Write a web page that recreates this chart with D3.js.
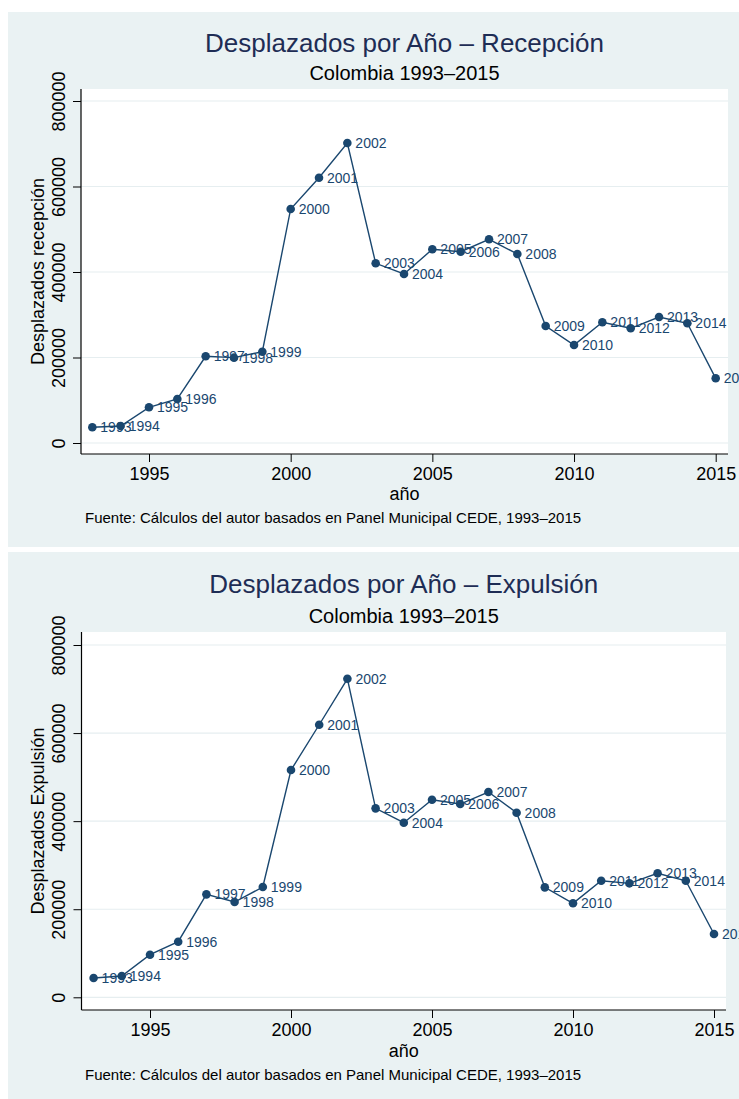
<!DOCTYPE html>
<html>
<head>
<meta charset="utf-8">
<script src="https://cdn.jsdelivr.net/npm/d3@7"></script>
<style>
  body { margin: 0; background: #ffffff; }
  svg text { font-family: "Liberation Sans", Arial, Helvetica, sans-serif; }
</style>
</head>
<body>
<svg id="chart" width="739" height="1099"></svg>
<script>
// Displaced persons per year, Colombia
const years = [1993, 1994, 1995, 1996, 1997, 1998, 1999, 2000, 2001, 2002, 2003, 2004,
               2005, 2006, 2007, 2008, 2009, 2010, 2011, 2012, 2013, 2014, 2015];
const recepcion = [36700, 39800, 83500, 102900, 202800, 199600, 213600, 547400, 620600, 701800,
                   420300, 395300, 453100, 447500, 476500, 442100, 273700, 229200, 282300, 268300,
                   294700, 280000, 151300];
const expulsion = [43800, 48400, 96700, 126200, 233800, 216300, 250400, 516000, 618900, 723300,
                   429100, 396400, 448600, 438800, 466100, 419100, 249700, 213400, 264700, 258800,
                   281500, 264700, 143700];
const xTickValues = [1995, 2000, 2005, 2010, 2015];
const yTickValues = [0, 200000, 400000, 600000, 800000];
const titles = ["Desplazados por Año – Recepción", "Desplazados por Año – Expulsión"];
const subtitle = "Colombia 1993–2015";
const yTitles = ["Desplazados recepción", "Desplazados Expulsión"];
const xTitle = "año";
const note = "Fuente: Cálculos del autor basados en Panel Municipal CEDE, 1993–2015";

const NAVY = "#1a476f";
const BG = "#eaf2f3";
const GRID = "#e6eef0";
const TITLE_COLOR = "#1e2d55";

const svg = d3.select("#chart");

function drawPanel(values, idx, L) {
  const g = svg.append("g");

  // panel background and plot region
  g.append("rect").attr("x", L.px).attr("y", L.py).attr("width", L.pw).attr("height", L.ph)
    .attr("fill", BG);
  g.append("rect").attr("x", L.left).attr("y", L.top)
    .attr("width", L.right - L.left).attr("height", L.bottom - L.top).attr("fill", "#ffffff");

  const x = d3.scaleLinear().domain([1995, 2015]).range([L.x1995, L.x2015]);
  const y = d3.scaleLinear().domain([0, 800000]).range([L.y0, L.y800]);

  // horizontal grid lines
  g.append("g").selectAll("line").data(yTickValues).join("line")
    .attr("x1", L.left).attr("x2", L.right)
    .attr("y1", d => y(d)).attr("y2", d => y(d))
    .attr("stroke", GRID).attr("stroke-width", 1.2);

  // y axis
  const ya = g.append("g").attr("transform", `translate(${L.left},0)`)
    .call(d3.axisLeft(y).tickValues(yTickValues).tickFormat(d3.format("d")).tickSize(8));
  ya.select(".domain").remove();
  ya.attr("font-size", 18).attr("font-family", null);
  ya.selectAll(".tick line").attr("stroke", "#000").attr("stroke-width", 1);
  ya.selectAll(".tick text")
    .attr("transform", "rotate(-90)")
    .attr("x", 0).attr("y", -16.5).attr("dy", 0)
    .attr("text-anchor", "middle").attr("fill", "#000");
  g.append("line").attr("x1", L.left).attr("x2", L.left).attr("y1", L.top).attr("y2", L.bottom)
    .attr("stroke", "#000").attr("stroke-width", 1.2);

  // x axis
  const xa = g.append("g").attr("transform", `translate(0,${L.bottom})`)
    .call(d3.axisBottom(x).tickValues(xTickValues).tickFormat(d3.format("d")).tickSize(8));
  xa.select(".domain").remove();
  xa.attr("font-size", 18).attr("font-family", null);
  xa.selectAll(".tick line").attr("stroke", "#000").attr("stroke-width", 1);
  xa.selectAll(".tick text").attr("y", 25.5).attr("dy", 0).attr("fill", "#000");
  g.append("line").attr("x1", L.left).attr("x2", L.right).attr("y1", L.bottom).attr("y2", L.bottom)
    .attr("stroke", "#000").attr("stroke-width", 1.2);

  const cx = (L.left + L.right) / 2;

  // titles
  g.append("text").attr("x", cx).attr("y", L.titleY).attr("text-anchor", "middle")
    .attr("font-size", 26).attr("fill", TITLE_COLOR).text(titles[idx]);
  g.append("text").attr("x", cx).attr("y", L.subY).attr("text-anchor", "middle")
    .attr("font-size", 20).attr("fill", "#000").text(subtitle);

  // axis titles
  g.append("text").attr("x", cx).attr("y", L.xTitleY).attr("text-anchor", "middle")
    .attr("font-size", 18).attr("fill", "#000").text(xTitle);
  g.append("text")
    .attr("transform", `translate(43.5,${(L.top + L.bottom) / 2}) rotate(-90)`)
    .attr("text-anchor", "middle").attr("font-size", 18).attr("fill", "#000")
    .text(yTitles[idx]);

  // note
  g.append("text").attr("x", 85).attr("y", L.noteY)
    .attr("font-size", 15).attr("fill", "#000").text(note);

  const data = years.map((yr, i) => ({ year: yr, value: values[i] }));

  // point labels
  g.append("g").selectAll("text").data(data).join("text")
    .attr("x", d => x(d.year) + 8).attr("y", d => y(d.value) + 5)
    .attr("font-size", 14).attr("fill", NAVY).text(d => d.year);

  // connecting line
  g.append("path").datum(data)
    .attr("d", d3.line().x(d => x(d.year)).y(d => y(d.value)))
    .attr("fill", "none").attr("stroke", NAVY).attr("stroke-width", 1.4);

  // markers
  g.append("g").selectAll("circle").data(data).join("circle")
    .attr("cx", d => x(d.year)).attr("cy", d => y(d.value)).attr("r", 4.3)
    .attr("fill", NAVY);
}

drawPanel(recepcion, 0, {
  px: 8, py: 12, pw: 731, ph: 535,
  left: 81, right: 728, top: 89, bottom: 454,
  x1995: 149, x2015: 715.7, y0: 443, y800: 101,
  titleY: 52, subY: 80, xTitleY: 500, noteY: 523
});

drawPanel(expulsion, 1, {
  px: 8, py: 552, pw: 731, ph: 547,
  left: 81.5, right: 726, top: 632, bottom: 1010,
  x1995: 150, x2015: 714, y0: 997.3, y800: 645,
  titleY: 593, subY: 622.5, xTitleY: 1056.7, noteY: 1080
});
</script>
</body>
</html>
